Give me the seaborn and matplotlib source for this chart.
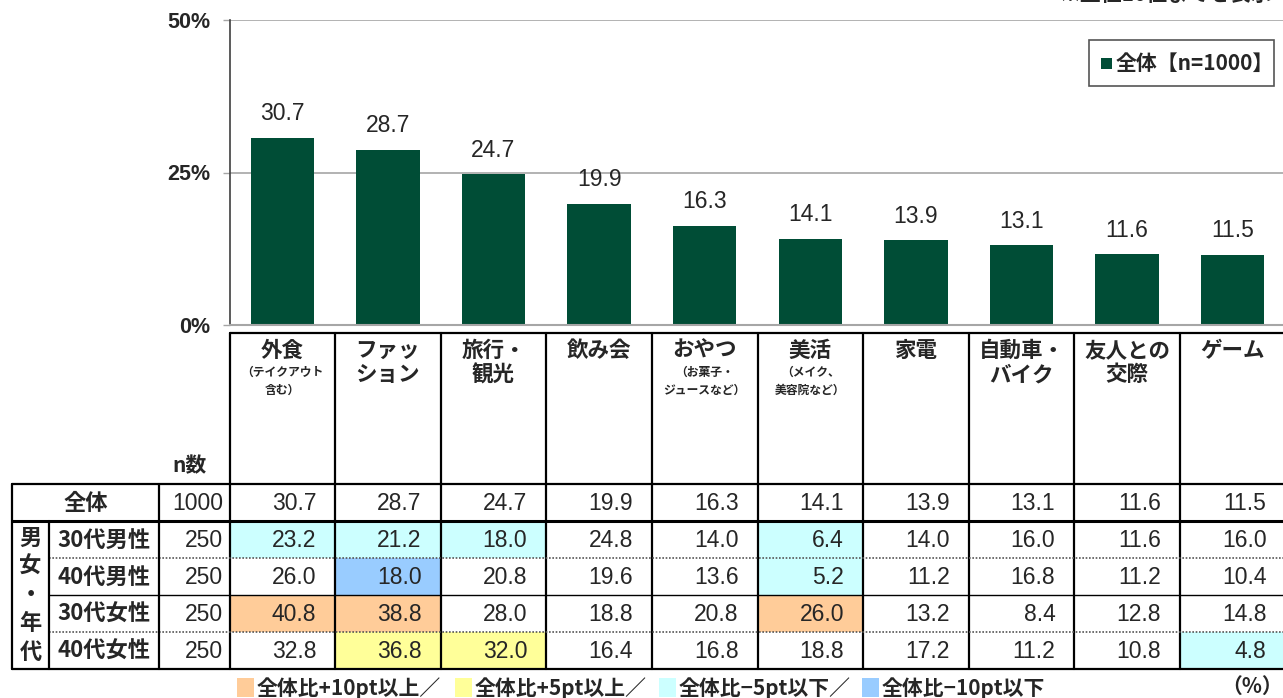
import matplotlib
matplotlib.use("Agg")
import matplotlib.pyplot as plt
import seaborn as sns
import pandas as pd
from matplotlib.patches import Rectangle

# ---------------- data ----------------
categories = ["外食", "ファッション", "旅行・観光", "飲み会", "おやつ", "美活", "家電",
              "自動車・バイク", "友人との交際", "ゲーム"]
header_main = ["外食", "ファッ\nション", "旅行・\n観光", "飲み会", "おやつ", "美活", "家電",
               "自動車・\nバイク", "友人との\n交際", "ゲーム"]
header_sub = ["（テイクアウト\n含む）", "", "", "", "（お菓子・\nジュースなど）",
              "（メイク、\n美容院など）", "", "", "", ""]
overall = [30.7, 28.7, 24.7, 19.9, 16.3, 14.1, 13.9, 13.1, 11.6, 11.5]
overall_label = "全体"
overall_n = 1000
group_title = "男女・年代"
group_labels = ["30代男性", "40代男性", "30代女性", "40代女性"]
group_n = [250, 250, 250, 250]
m30 = [23.2, 21.2, 18.0, 24.8, 14.0, 6.4, 14.0, 16.0, 11.6, 16.0]
m40 = [26.0, 18.0, 20.8, 19.6, 13.6, 5.2, 11.2, 16.8, 11.2, 10.4]
f30 = [40.8, 38.8, 28.0, 18.8, 20.8, 26.0, 13.2, 8.4, 12.8, 14.8]
f40 = [32.8, 36.8, 32.0, 16.4, 16.8, 18.8, 17.2, 11.2, 10.8, 4.8]
group_values = [m30, m40, f30, f40]
yticks = [0, 25, 50]
ytick_labels = ["0%", "25%", "50%"]
legend_label = "全体【n=1000】"
n_label = "n数"
note_top = "※上位10位までを表示"
unit_label = "（%）"
key_labels = ["全体比+10pt以上／", "全体比+5pt以上／", "全体比−5pt以下／", "全体比−10pt以下"]

# ---------------- style ----------------
GREEN = "#004D36"
C_P10, C_P5, C_M5, C_M10 = "#FFCC99", "#FFFF99", "#CCFFFF", "#99CCFF"
key_colors = [C_P10, C_P5, C_M5, C_M10]
GRID = "#A6A6A6"
JP = ["Noto Sans CJK JP", "DejaVu Sans"]
NUM = ["Liberation Sans", "DejaVu Sans"]
NUM_FS = 16.5

sns.set_style("white")
plt.rcParams["font.family"] = JP

FW, FH = 1283, 698
fig = plt.figure(figsize=(FW / 100, FH / 100), dpi=100)

X0, W = 229.5, 105.6          # first column left edge, column width (px)
Y50, Y0 = 20, 325             # bar axes top / bottom (px)
H_TOP, H_BOT = 333, 484       # header band
ROWS = [484, 521, 558, 595, 632, 669]
XL = [12, 49, 159, X0]

def fx(px):
    return px / FW

def fy(py):
    return 1 - py / FH

# ---------------- bar chart ----------------
ax = fig.add_axes([fx(X0), fy(Y0), fx(10 * W), (Y0 - Y50) / FH])
df = pd.DataFrame({"cat": categories, "val": overall})
sns.barplot(data=df, x="cat", y="val", color=GREEN, width=0.6, ax=ax,
            saturation=1, edgecolor="none")
ax.set_xlim(-0.5, len(categories) - 0.5)
ax.set_ylim(0, 50)
ax.set_yticks(yticks)
ax.set_yticklabels(ytick_labels, family=NUM, fontsize=15.5, fontweight="bold")
ax.set_xticks([])
ax.set_xlabel("")
ax.set_ylabel("")
for y in yticks[1:]:
    ax.axhline(y, color=GRID, lw=1.2, zorder=0)
for s in ["top", "right"]:
    ax.spines[s].set_visible(False)
ax.spines["left"].set_color("#404040")
ax.spines["left"].set_linewidth(1.2)
ax.spines["bottom"].set_color(GRID)
ax.spines["bottom"].set_linewidth(1.5)
ax.tick_params(axis="y", length=5, width=1, color=GRID, pad=9, left=True)
for c in ax.containers:
    ax.bar_label(c, fmt="%.1f", padding=9, fontsize=NUM_FS, family=NUM)

# ---------------- overlay (header, table, keys) ----------------
ov = fig.add_axes([0, 0, 1, 1])
ov.set_xlim(0, FW)
ov.set_ylim(FH, 0)
ov.axis("off")
ov.patch.set_visible(False)

ncat = len(categories)
col_l = [X0 + i * W for i in range(ncat)]
col_c = [X0 + (i + 0.5) * W for i in range(ncat)]
XR = X0 + ncat * W

LW = 1.6
# header band lines
ov.plot([X0, XR], [H_TOP, H_TOP], color="black", lw=LW)
for i in range(ncat + 1):
    ov.plot([X0 + i * W] * 2, [H_TOP, ROWS[-1]], color="black", lw=LW)

# header texts
for i in range(ncat):
    ov.text(col_c[i], 340, header_main[i], ha="center", va="top", fontsize=15.5,
            fontweight="bold", linespacing=1.2)
    if header_sub[i]:
        ov.text(col_c[i], 366, header_sub[i], ha="center", va="top",
                fontsize=8.5, fontweight="bold", linespacing=1.5)

ov.text(189, 466, n_label, ha="center", va="center", fontsize=15, fontweight="bold")

# cell fills
def cell_color(v, base):
    d = v - base
    if d >= 10:
        return C_P10
    if d >= 5:
        return C_P5
    if d <= -10:
        return C_M10
    if d <= -5:
        return C_M5
    return None

for r, vals in enumerate(group_values):
    for i, v in enumerate(vals):
        c = cell_color(v, overall[i])
        if c:
            ov.add_patch(Rectangle((col_l[i], ROWS[r + 1]), W, ROWS[r + 2] - ROWS[r + 1],
                                   facecolor=c, edgecolor="none", zorder=0))

# table lines
ov.plot([XL[0], XR], [ROWS[0], ROWS[0]], color="black", lw=LW)
ov.plot([XL[0], XR], [ROWS[1], ROWS[1]], color="black", lw=LW + 0.6)
ov.plot([XL[1], XR], [ROWS[2], ROWS[2]], color="#555555", lw=1.2, ls=(0, (1, 1)))
ov.plot([XL[1], XR], [ROWS[3], ROWS[3]], color="black", lw=1.0)
ov.plot([XL[1], XR], [ROWS[4], ROWS[4]], color="#555555", lw=1.2, ls=(0, (1, 1)))
ov.plot([XL[0], XR], [ROWS[5], ROWS[5]], color="black", lw=LW)
ov.plot([XL[0]] * 2, [ROWS[0], ROWS[5]], color="black", lw=LW)
ov.plot([XL[1]] * 2, [ROWS[1], ROWS[5]], color="black", lw=LW)
ov.plot([XL[2]] * 2, [ROWS[0], ROWS[5]], color="black", lw=LW)

# table texts
def rc(r):
    return (ROWS[r] + ROWS[r + 1]) / 2 + 1

ov.text((XL[0] + XL[2]) / 2, rc(0), overall_label, ha="center", va="center",
        fontsize=16, fontweight="bold")
ov.text(XL[3] - 6, rc(0), str(overall_n), ha="right", va="center", fontsize=NUM_FS, family=NUM)
for i, v in enumerate(overall):
    ov.text(col_l[i] + W - 19, rc(0), f"{v:.1f}", ha="right", va="center",
            fontsize=NUM_FS, family=NUM)

for k, ch in enumerate(group_title):
    ov.text((XL[0] + XL[1]) / 2, 538 + k * 28.5, ch, ha="center", va="center",
            fontsize=16, fontweight="bold")

for r, lab in enumerate(group_labels):
    ov.text((XL[1] + XL[2]) / 2, rc(r + 1), lab, ha="center", va="center",
            fontsize=16, fontweight="bold")
    ov.text(XL[3] - 6, rc(r + 1), str(group_n[r]), ha="right", va="center",
            fontsize=NUM_FS, family=NUM)
    for i, v in enumerate(group_values[r]):
        ov.text(col_l[i] + W - 19, rc(r + 1), f"{v:.1f}", ha="right", va="center",
                fontsize=NUM_FS, family=NUM)

# color key row
key_x = [237, 455, 659, 862]
for x, c, lab in zip(key_x, key_colors, key_labels):
    ov.add_patch(Rectangle((x, 678), 17, 19, facecolor=c, edgecolor="none"))
    ov.text(x + 20, 688, lab, ha="left", va="center", fontsize=15, fontweight="bold")
ov.text(1283, 686, unit_label, ha="right", va="center", fontsize=15, fontweight="bold")

# top note (partly cut off at the top edge, as in the source)
ov.text(1272, 5, note_top, ha="right", va="bottom", fontsize=15, fontweight="bold")

# legend box
ov.add_patch(Rectangle((1089, 40), 185, 46, facecolor="white", edgecolor="#555555", lw=1.2))
ov.add_patch(Rectangle((1101, 58), 11, 11, facecolor=GREEN, edgecolor="none"))
ov.text(1116, 63.5, legend_label, ha="left", va="center", fontsize=15, fontweight="bold")

fig.savefig("out.png", dpi=100)
